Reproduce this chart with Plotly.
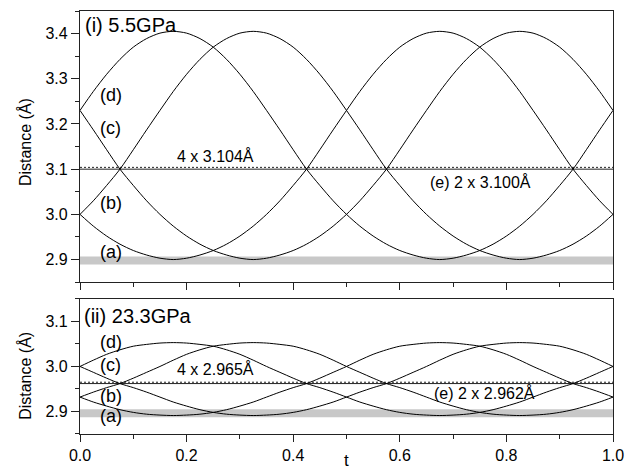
import plotly.graph_objects as go

# ---------------- data ----------------
t = [round(0.025 * i, 3) for i in range(41)]

# (i) 5.5 GPa
top_a = [3.000, 2.974, 2.952, 2.934, 2.920, 2.910, 2.903, 2.900, 2.903, 2.910, 2.920, 2.934, 2.952, 2.974,
         3.000, 3.030, 3.064, 3.100, 3.143, 3.187, 3.230, 3.272, 3.310, 3.343, 3.370, 3.389, 3.401, 3.405,
         3.401, 3.389, 3.370, 3.343, 3.310, 3.272, 3.230, 3.187, 3.143, 3.100, 3.064, 3.030, 3.000]
top_b = [3.000, 3.030, 3.064, 3.100, 3.143, 3.187, 3.230, 3.272, 3.310, 3.343, 3.370, 3.389, 3.401, 3.405,
         3.401, 3.389, 3.370, 3.343, 3.310, 3.272, 3.230, 3.187, 3.143, 3.100, 3.064, 3.030, 3.000, 2.974,
         2.952, 2.934, 2.920, 2.910, 2.903, 2.900, 2.903, 2.910, 2.920, 2.934, 2.952, 2.974, 3.000]
top_c = [3.230, 3.187, 3.143, 3.100, 3.064, 3.030, 3.000, 2.974, 2.952, 2.934, 2.920, 2.910, 2.903, 2.900,
         2.903, 2.910, 2.920, 2.934, 2.952, 2.974, 3.000, 3.030, 3.064, 3.100, 3.143, 3.187, 3.230, 3.272,
         3.310, 3.343, 3.370, 3.389, 3.401, 3.405, 3.401, 3.389, 3.370, 3.343, 3.310, 3.272, 3.230]
top_d = [3.230, 3.272, 3.310, 3.343, 3.370, 3.389, 3.401, 3.405, 3.401, 3.389, 3.370, 3.343, 3.310, 3.272,
         3.230, 3.187, 3.143, 3.100, 3.064, 3.030, 3.000, 2.974, 2.952, 2.934, 2.920, 2.910, 2.903, 2.900,
         2.903, 2.910, 2.920, 2.934, 2.952, 2.974, 3.000, 3.030, 3.064, 3.100, 3.143, 3.187, 3.230]

# (ii) 23.3 GPa
bot_a = [2.932, 2.921, 2.912, 2.904, 2.898, 2.894, 2.892, 2.891, 2.892, 2.894, 2.898, 2.904, 2.912, 2.921,
         2.932, 2.943, 2.953, 2.962, 2.974, 2.987, 3.000, 3.014, 3.027, 3.037, 3.045, 3.049, 3.052, 3.053,
         3.052, 3.049, 3.045, 3.037, 3.027, 3.014, 3.000, 2.987, 2.974, 2.962, 2.953, 2.943, 2.932]
bot_b = [2.932, 2.943, 2.953, 2.962, 2.974, 2.987, 3.000, 3.014, 3.027, 3.037, 3.045, 3.049, 3.052, 3.053,
         3.052, 3.049, 3.045, 3.037, 3.027, 3.014, 3.000, 2.987, 2.974, 2.962, 2.953, 2.943, 2.932, 2.921,
         2.912, 2.904, 2.898, 2.894, 2.892, 2.891, 2.892, 2.894, 2.898, 2.904, 2.912, 2.921, 2.932]
bot_c = [3.000, 2.987, 2.974, 2.962, 2.953, 2.943, 2.932, 2.921, 2.912, 2.904, 2.898, 2.894, 2.892, 2.891,
         2.892, 2.894, 2.898, 2.904, 2.912, 2.921, 2.932, 2.943, 2.953, 2.962, 2.974, 2.987, 3.000, 3.014,
         3.027, 3.037, 3.045, 3.049, 3.052, 3.053, 3.052, 3.049, 3.045, 3.037, 3.027, 3.014, 3.000]
bot_d = [3.000, 3.014, 3.027, 3.037, 3.045, 3.049, 3.052, 3.053, 3.052, 3.049, 3.045, 3.037, 3.027, 3.014,
         3.000, 2.987, 2.974, 2.962, 2.953, 2.943, 2.932, 2.921, 2.912, 2.904, 2.898, 2.894, 2.892, 2.891,
         2.892, 2.894, 2.898, 2.904, 2.912, 2.921, 2.932, 2.943, 2.953, 2.962, 2.974, 2.987, 3.000]

t_span = [0.0, 1.0]
band_level = [2.898, 2.896]      # grey reference band (i), (ii)
e_level = [3.100, 2.962]         # (e) 2 x d
four_level = [3.104, 2.965]      # 4 x d

panel_labels = ["(i) 5.5GPa", "(ii) 23.3GPa"]
four_labels = ["4 x 3.104Å", "4 x 2.965Å"]
e_labels = ["(e) 2 x 3.100Å", "(e) 2 x 2.962Å"]
curve_names = ["(a)", "(b)", "(c)", "(d)"]
y_ticks_top = [2.9, 3.0, 3.1, 3.2, 3.3, 3.4]
y_ticks_bot = [2.9, 3.0, 3.1]
x_ticks = [0.0, 0.2, 0.4, 0.6, 0.8, 1.0]

# ---------------- figure ----------------
FONT = "Liberation Sans, Arial, Helvetica, sans-serif"
fig = go.Figure()

panels = [
    ("x", "y", band_level[0], e_level[0], four_level[0], [top_a, top_b, top_c, top_d]),
    ("x2", "y2", band_level[1], e_level[1], four_level[1], [bot_a, bot_b, bot_c, bot_d]),
]
for xa, ya, band, e, four, curves in panels:
    fig.add_trace(go.Scatter(x=t_span, y=[band, band], mode="lines",
                             line=dict(color="#c8c8c8", width=8), xaxis=xa, yaxis=ya,
                             showlegend=False, hoverinfo="skip"))
    fig.add_trace(go.Scatter(x=t_span, y=[e, e], mode="lines",
                             line=dict(color="#222222", width=1), xaxis=xa, yaxis=ya,
                             showlegend=False))
    fig.add_trace(go.Scatter(x=t_span, y=[four, four], mode="lines",
                             line=dict(color="#222222", width=1, dash="2px,2px"), xaxis=xa, yaxis=ya,
                             showlegend=False))
    for name, c in zip(curve_names, curves):
        fig.add_trace(go.Scatter(x=t, y=c, mode="lines", name=name,
                                 line=dict(color="black", width=1, shape="spline", smoothing=0.8),
                                 xaxis=xa, yaxis=ya, showlegend=False))

axis_common = dict(showline=True, linecolor="#222222", linewidth=1.2, mirror=True,
                   showgrid=False, zeroline=False, ticks="outside", tickcolor="#222222",
                   tickfont=dict(family=FONT, size=16, color="black"))

fig.update_layout(
    width=636, height=474,
    margin=dict(l=80, r=23, t=10, b=35),
    paper_bgcolor="white", plot_bgcolor="white",
    font=dict(family=FONT, color="black"),
    xaxis=dict(domain=[0, 1], anchor="y", range=[0, 1], tickvals=x_ticks, ticklen=7,
               showticklabels=False, minor=dict(dtick=0.1, ticklen=4, ticks="outside", tickcolor="#222222"),
               **axis_common),
    yaxis=dict(domain=[0.359, 1], anchor="x", range=[2.85, 3.45], tickvals=y_ticks_top,
               tickformat=".1f", ticklen=8,
               minor=dict(tick0=2.85, dtick=0.05, ticklen=4, ticks="outside", tickcolor="#222222"),
               **axis_common),
    xaxis2=dict(domain=[0, 1], anchor="y2", range=[0, 1], tickvals=x_ticks, ticklen=7,
                tickformat=".1f", minor=dict(dtick=0.1, ticklen=4, ticks="outside", tickcolor="#222222"),
                **axis_common),
    yaxis2=dict(domain=[0, 0.3193], anchor="x2", range=[2.85, 3.15], tickvals=y_ticks_bot,
                tickformat=".1f", ticklen=8,
                minor=dict(tick0=2.85, dtick=0.05, ticklen=4, ticks="outside", tickcolor="#222222"),
                **axis_common),
)

ann = []
def label(text, x, y, size, xanchor="left", angle=0):
    ann.append(dict(text=text, x=x, y=y, xref="paper", yref="paper", xanchor=xanchor,
                    yanchor="middle", showarrow=False, textangle=angle,
                    font=dict(family=FONT, size=size, color="black")))

label(panel_labels[0], 0.0056, 0.9674, 20)
label(panel_labels[1], 0.0038, 0.2786, 20)
top_pos = {"(d)": 0.8007, "(c)": 0.7238, "(b)": 0.5455, "(a)": 0.4301}
bot_pos = {"(d)": 0.2168, "(c)": 0.1620, "(b)": 0.0897, "(a)": 0.0431}
for n in curve_names:
    label(n, 0.0338, top_pos[n], 18)
    label(n, 0.0338, bot_pos[n], 18)
label(four_labels[0], 0.1782, 0.6573, 16)
label(four_labels[1], 0.1782, 0.1538, 16)
label(e_labels[0], 0.6529, 0.5967, 16)
label(e_labels[1], 0.6604, 0.0967, 16)
label("Distance (Å)", -0.1032, 0.690, 16, xanchor="center", angle=-90)
label("Distance (Å)", -0.1032, 0.1375, 16, xanchor="center", angle=-90)
label("t", 0.5009, -0.0629, 17, xanchor="center")
fig.update_layout(annotations=ann)

fig.write_html("out.html",
               config={"displayModeBar": False},
               post_script="document.body.style.margin='0';document.body.style.overflow='hidden';")
